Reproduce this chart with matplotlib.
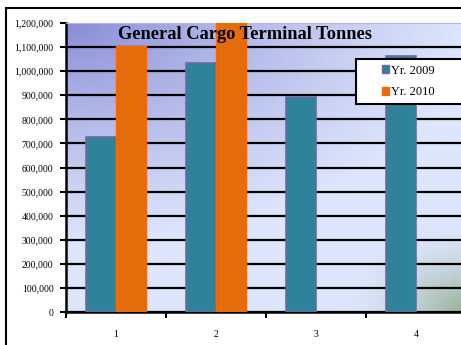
import numpy as np
import matplotlib.pyplot as plt
from matplotlib.patches import Patch, Rectangle

# данные
categories = ['1', '2', '3', '4']
yr_2009 = [725000, 1035000, 894000, 1064000]
yr_2010 = [1105000, 1300000, np.nan, np.nan]
y_ticks = list(range(0, 1200001, 100000))

plt.rcParams['font.family'] = ['Liberation Serif', 'DejaVu Serif']

fig = plt.figure(figsize=(4.61, 3.45), dpi=100)
ax = fig.add_axes([66 / 461, 1 - 312 / 345, 400 / 461, 289 / 345])

# градиентный фон области построения
nx, ny = 200, 150
xx, yy = np.meshgrid(np.linspace(0, 1, nx), np.linspace(1, 0, ny))
dist_tl = np.clip(np.hypot(xx * 1.0, (1 - yy) * 1.3) / 1.0, 0, 1) ** 0.8
blue_dark = np.array([135, 137, 212]) / 255
blue_light = np.array([221, 230, 252]) / 255
green = np.array([150, 178, 150]) / 255
img = blue_dark[None, None, :] * (1 - dist_tl[..., None]) + blue_light[None, None, :] * dist_tl[..., None]
dist_br = np.clip(1 - np.hypot(1 - xx, yy) / 0.3, 0, 1) ** 1.5
img = img * (1 - dist_br[..., None]) + green[None, None, :] * dist_br[..., None]
ax.imshow(img, extent=[0, 1, 0, 1], transform=ax.transAxes, aspect='auto', zorder=0)

x = np.arange(len(categories))
w = 0.3
ax.bar(x - w / 2, yr_2009, w, color='#2e8299', edgecolor='#6b6b9e', linewidth=1.2, zorder=3)
ax.bar(x + w / 2, yr_2010, w, color='#e46c0a', edgecolor='#ff6600', linewidth=1.0, zorder=3)

ax.set_xlim(-0.5, 3.5)
ax.set_ylim(0, 1200000)
ax.set_yticks(y_ticks)
ax.set_yticklabels([f'{v:,}' for v in y_ticks], fontsize=7)
ax.yaxis.grid(True, color='black', linewidth=1.6, zorder=1)
ax.yaxis.get_gridlines()[-1].set_visible(False)
ax.set_axisbelow(True)

ax.set_xticks([-0.5, 0.5, 1.5, 2.5, 3.5])
ax.set_xticklabels([])
ax.set_xticks(x, minor=True)
ax.set_xticklabels(categories, minor=True, fontsize=7)
ax.tick_params(axis='x', which='minor', length=0, pad=13)
ax.tick_params(axis='x', which='major', length=4, width=1.5, direction='out')
ax.tick_params(axis='y', length=4, width=1.5, direction='out', pad=5)

for s in ['left', 'bottom']:
    ax.spines[s].set_linewidth(1.8)
ax.spines['top'].set_color('#b8b8e8')
ax.spines['right'].set_visible(False)

ax.text(0.4475, 0.99, 'General Cargo Terminal Tonnes', transform=ax.transAxes,
        ha='center', va='top', fontsize=13.2, fontweight='bold', zorder=5)

# легенда: рамка отдельно, т.к. она уходит за край рисунка
fig.patches.append(Rectangle((356 / 461, 1 - 104 / 345), 0.3, 45 / 345, transform=fig.transFigure,
                             facecolor='white', edgecolor='black', linewidth=1.5, zorder=9))
handles = [Patch(facecolor='#2e8299', edgecolor='#6b6b9e'),
           Patch(facecolor='#e46c0a', edgecolor='#ff6600')]
leg = fig.legend(handles, ['Yr. 2009', 'Yr. 2010'], loc='upper left',
                 bbox_to_anchor=(378 / 461, 1 - 61 / 345), frameon=False,
                 fontsize=9, handlelength=0.6, handleheight=0.6,
                 handletextpad=0.15, borderpad=0.3, labelspacing=0.75, borderaxespad=0)
leg.set_zorder(10)

# рамка вокруг рисунка
fig.patches.append(Rectangle((6 / 461, -0.05), 1.1, 1 - 8 / 345 + 0.05, transform=fig.transFigure,
                             fill=False, edgecolor='black', linewidth=1.5))

fig.savefig('out.png', dpi=100)
